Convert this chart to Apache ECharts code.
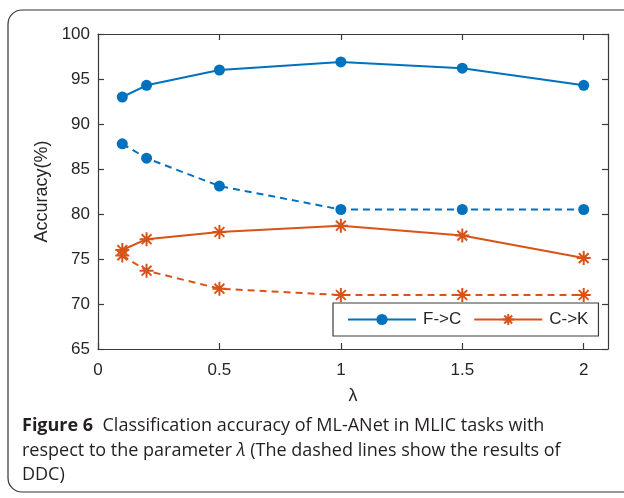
<!DOCTYPE html>
<html><head><meta charset="utf-8">
<script src="https://cdn.jsdelivr.net/npm/echarts@6/dist/echarts.min.js"></script>
<style>html,body{margin:0;padding:0;background:#fff}#c{width:624px;height:498px}</style>
</head><body><div id="c"></div>
<script>
const lambdas = [0.1, 0.2, 0.5, 1, 1.5, 2];
const fcMLANet = [93.0, 94.3, 96.0, 96.9, 96.2, 94.3];
const fcDDC    = [87.8, 86.2, 83.1, 80.5, 80.5, 80.5];
const ckMLANet = [76.0, 77.2, 78.0, 78.7, 77.6, 75.1];
const ckDDC    = [75.4, 73.7, 71.7, 71.0, 71.0, 71.0];
const seriesNames = ['F->C', 'C->K'];
const yTicks = [65, 70, 75, 80, 85, 90, 95, 100];

const BLUE = '#0072BD', ORANGE = '#D95319', AX = '#262626';
const star = 'path://M0,10 L20,10 M10,0 L10,20 M3,3 L17,17 M17,3 L3,17';
const pts = arr => lambdas.map((x, i) => [x, arr[i]]);

function mk(name, data, color, dashed, isStar) {
  return {
    name, type: 'line', data: pts(data),
    xAxisIndex: 0, yAxisIndex: 0,
    symbol: isStar ? star : 'circle',
    symbolSize: isStar ? 14 : 11,
    showAllSymbol: true,
    lineStyle: { color, width: 2, type: dashed ? [7, 5] : 'solid' },
    itemStyle: isStar ? { color: 'rgba(0,0,0,0)', borderColor: color, borderWidth: 2 } : { color, borderWidth: 0 },
    emphasis: { disabled: true },
    animation: false, z: 3
  };
}

const chart = echarts.init(document.getElementById('c'), null, { renderer: 'canvas' });
const axCommon = {
  axisLine: { show: true, onZero: false, lineStyle: { color: '#3a3a3a', width: 1.2 } },
  axisTick: { show: true, inside: true, length: 6, lineStyle: { color: '#3a3a3a', width: 1.2 } },
  splitLine: { show: false }
};
chart.setOption({
  backgroundColor: '#fff',
  animation: false,
  grid: { left: 98, right: 16, top: 34, bottom: 149, containLabel: false },
  xAxis: [
    Object.assign({ type: 'value', min: 0, max: 2.1, interval: 0.5, position: 'bottom',
      name: 'λ', nameLocation: 'middle', nameGap: 38,
      nameTextStyle: { fontFamily: 'Liberation Sans', fontSize: 18, color: AX },
      axisLabel: { showMaxLabel: false, fontFamily: 'Liberation Sans', fontSize: 17, color: AX, margin: 13 } }, axCommon),
    Object.assign({ type: 'value', min: 0, max: 2.1, interval: 0.5, position: 'top',
      axisLabel: { show: false } }, axCommon)
  ],
  yAxis: [
    Object.assign({ type: 'value', min: yTicks[0], max: yTicks[yTicks.length - 1], interval: 5, position: 'left',
      name: 'Accuracy(%)', nameLocation: 'middle', nameGap: 47, nameRotate: 90,
      nameTextStyle: { fontFamily: 'Liberation Sans', fontSize: 18, color: AX },
      axisLabel: { fontFamily: 'Liberation Sans', fontSize: 17, color: AX, margin: 8 } }, axCommon),
    Object.assign({ type: 'value', min: yTicks[0], max: yTicks[yTicks.length - 1], interval: 5, position: 'right',
      axisLabel: { show: false } }, axCommon)
  ],
  legend: {
    data: seriesNames,
    left: 333, top: 303, width: 265,
    orient: 'horizontal',
    backgroundColor: '#fff',
    borderColor: '#3a3a3a', borderWidth: 1.2, borderRadius: 0,
    padding: [8, 10, 8, 14],
    itemWidth: 68, itemHeight: 14, itemGap: 12,
    textStyle: { fontFamily: 'Liberation Sans', fontSize: 17, color: AX, padding: [0, 0, 0, 2] },
    selectedMode: false
  },
  series: [
    mk(seriesNames[0], fcMLANet, BLUE, false, false),
    mk('F->C (DDC)', fcDDC, BLUE, true, false),
    mk(seriesNames[1], ckMLANet, ORANGE, false, true),
    mk('C->K (DDC)', ckDDC, ORANGE, true, true)
  ],
  graphic: [
    { type: 'rect', shape: { x: 8, y: 10, width: 700, height: 482, r: 14 },
      style: { fill: null, stroke: '#333', lineWidth: 1.2 }, silent: true, z: -1 },
    { type: 'text', left: 22, top: 414,
      style: {
        text: '{b|Figure 6}  Classification accuracy of ML-ANet in MLIC tasks with\nrespect to the parameter {i|λ} (The dashed lines show the results of\nDDC)',
        font: '18px "Open Sans"', fill: '#231f20', lineHeight: 24.5,
        rich: {
          b: { fontFamily: 'Open Sans', fontWeight: 'bold', fontSize: 18, fill: '#231f20', lineHeight: 24.5 },
          i: { fontFamily: 'Open Sans', fontStyle: 'italic', fontSize: 18, fill: '#231f20', lineHeight: 24.5 }
        }
      }, silent: true }
  ]
});
</script></body></html>
